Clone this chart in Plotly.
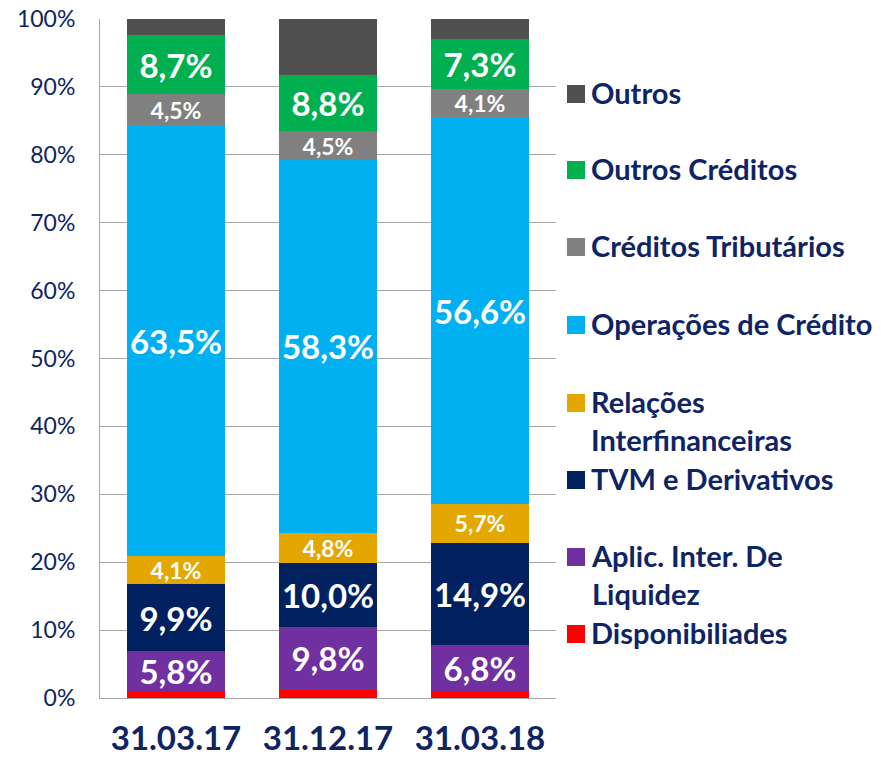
import plotly.graph_objects as go

categories = ["31.03.17", "31.12.17", "31.03.18"]

series_names = [
    "Disponibiliades",
    "Aplic. Inter. De Liquidez",
    "TVM e Derivativos",
    "Relações Interfinanceiras",
    "Operações de Crédito",
    "Créditos Tributários",
    "Outros Créditos",
    "Outros",
]
legend_labels = [
    "Disponibiliades",
    "Aplic. Inter. De<br>Liquidez",
    "TVM e Derivativos",
    "Relações<br>Interfinanceiras",
    "Operações de Crédito",
    "Créditos Tributários",
    "Outros Créditos",
    "Outros",
]
disponibilidades = [1.1, 1.3, 1.0]
aplic_liquidez = [5.8, 9.8, 6.8]
tvm_derivativos = [9.9, 10.0, 14.9]
relacoes_interfin = [4.1, 4.8, 5.7]
operacoes_credito = [63.5, 58.3, 56.6]
creditos_tributarios = [4.5, 4.5, 4.1]
outros_creditos = [8.7, 8.8, 7.3]
outros = [2.4, 8.8, 3.0]

series_values = [disponibilidades, aplic_liquidez, tvm_derivativos, relacoes_interfin,
                 operacoes_credito, creditos_tributarios, outros_creditos, outros]
colors = ["#FF0000", "#7030A0", "#002060", "#E3A700", "#00B0F0", "#808080", "#00B050", "#505050"]
show_label = [False, True, True, True, True, True, True, False]
label_size = [0, 33, 33, 23, 33, 23, 33, 0]

NAVY = "#0E2465"
FONT = "Lato"

# page body has an 8px default margin
OFF = 8
W, H = 881 - OFF, 759 - OFF
L, R, T, B = 100 - OFF, 556 - OFF, 19 - OFF, 698 - OFF

fig = go.Figure()
for name, vals, col, sl, fs in zip(series_names, series_values, colors, show_label, label_size):
    txt = [f"{v:.1f}".replace(".", ",") + "%" for v in vals] if sl else None
    fig.add_trace(go.Bar(
        x=categories, y=vals, name=name,
        marker=dict(color=col, line=dict(width=0)),
        text=txt,
        textposition="inside" if sl else "none",
        insidetextanchor="middle",
        constraintext="none",
        textangle=0,
        textfont=dict(family=FONT, size=fs if fs else 12, color="white", weight="bold"),
        showlegend=False,
        hoverinfo="skip",
    ))

# Custom legend (text and colour squares), positions given in screen pixels
legend_y = [634, 557, 480, 403, 325, 247, 170, 94]
def px_x(x):
    return (x - OFF - L) / (R - L)
def px_y(y):
    return (B - (y - OFF)) / (B - T)

for lab, col, yy in zip(legend_labels, colors, legend_y):
    fig.add_shape(type="rect", xref="paper", yref="paper",
                  x0=px_x(567), x1=px_x(585), y0=px_y(yy + 9), y1=px_y(yy - 9),
                  fillcolor=col, line=dict(width=0))
    fig.add_annotation(xref="paper", yref="paper", x=px_x(589), y=px_y(yy - 21),
                       xanchor="left", yanchor="top", align="left",
                       text=lab, showarrow=False,
                       font=dict(family=FONT, size=29, color=NAVY, weight="bold"))

fig.update_layout(
    width=W, height=H,
    margin=dict(l=L, r=W - R, t=T, b=H - B, pad=0, autoexpand=False),
    barmode="stack", barnorm="percent", bargap=0.355,
    plot_bgcolor="white", paper_bgcolor="white",
    font=dict(family=FONT, color=NAVY),
    xaxis=dict(
        tickfont=dict(family=FONT, size=33, color=NAVY, weight="bold"),
        showgrid=False, showline=True, linecolor="#A6A6A6", linewidth=1,
        ticks="", ticklabelstandoff=11, automargin=False,
    ),
    yaxis=dict(
        range=[0, 100], dtick=10, ticksuffix="%",
        tickfont=dict(family=FONT, size=23, color=NAVY),
        showgrid=True, gridcolor="#A6A6A6", gridwidth=1,
        showline=True, linecolor="#A6A6A6", linewidth=1, mirror=False,
        zeroline=False, ticks="", ticklabelstandoff=19, automargin=False,
        ticklabeloverflow="allow",
    ),
)

fig.write_html("out.html")
